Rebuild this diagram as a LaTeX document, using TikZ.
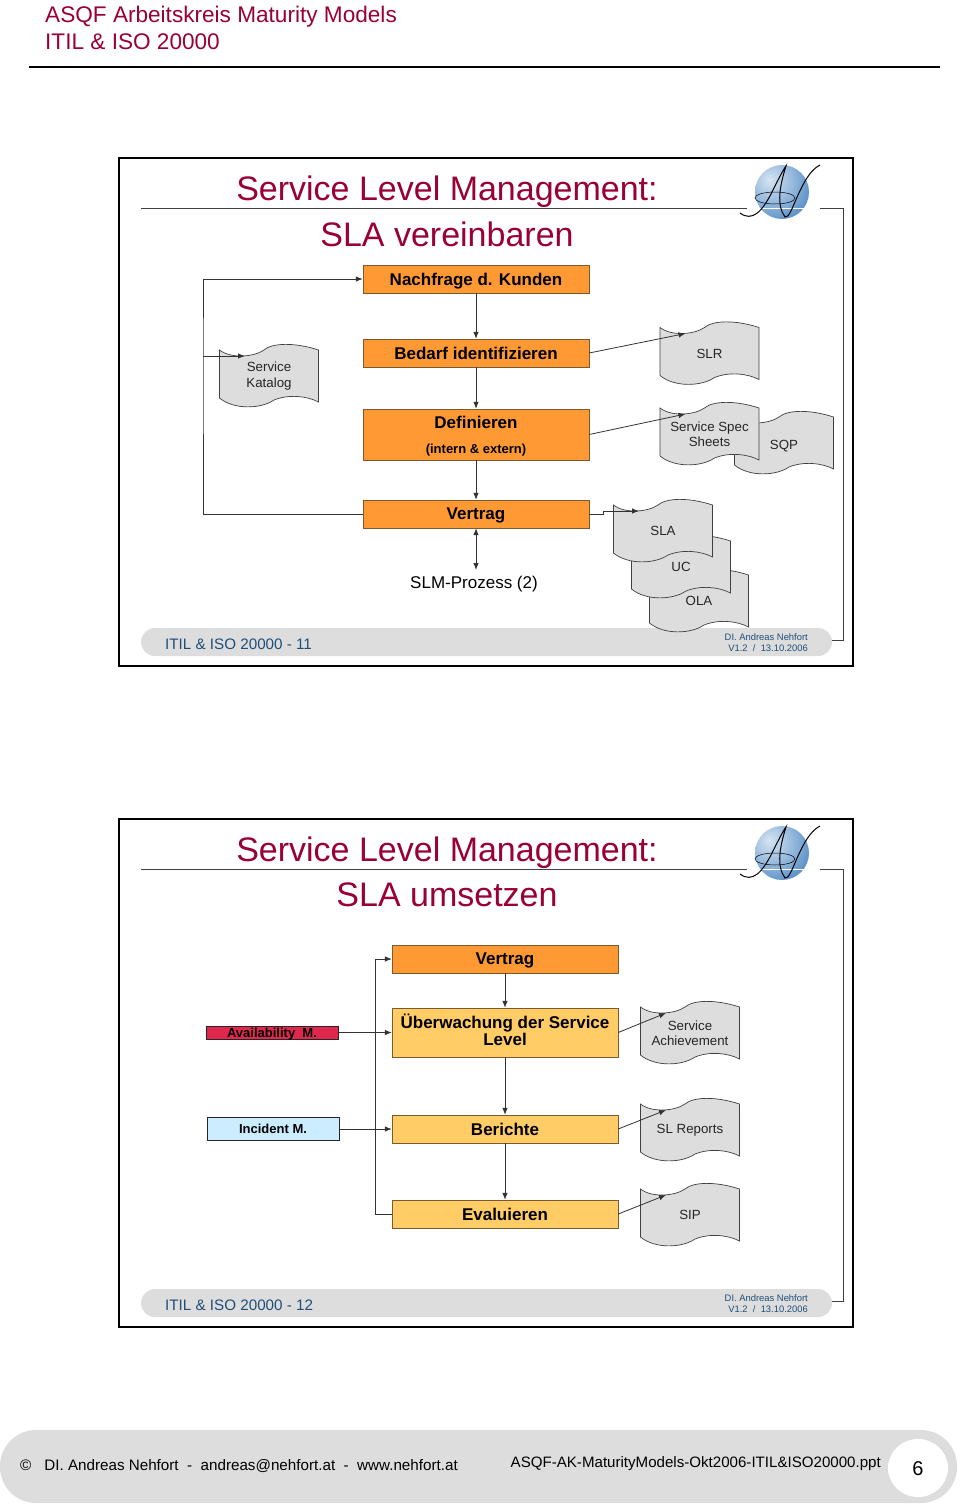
\documentclass[tikz,border=0pt]{standalone}
\usepackage{fontspec}
\setmainfont{Liberation Sans}
\usetikzlibrary{arrows.meta}
\definecolor{titlered}{HTML}{990033}
\definecolor{footblue}{HTML}{1F4E79}
\definecolor{barGrey}{HTML}{DDDDDD}
\definecolor{stepOrange}{HTML}{FF9933}
\definecolor{stepLight}{HTML}{FFCC66}
\definecolor{stepEdge}{HTML}{7A5A30}
\definecolor{availRed}{HTML}{E0284F}
\definecolor{incidentBlue}{HTML}{CCECFF}
\definecolor{ballInner}{HTML}{D6E4F2}
\definecolor{ballMid}{HTML}{94B8DC}
\definecolor{ballOuter}{HTML}{3A78B8}
\pgfdeclareradialshading{logoball}{\pgfpoint{-12bp}{12bp}}{color(0bp)=(ballInner); color(20bp)=(ballMid); color(45bp)=(ballOuter); color(100bp)=(ballOuter)}
\newcommand{\fsize}[1]{\fontsize{#1}{#1}\selectfont}
\tikzset{
  stepbox/.style={draw=stepEdge, rectangle, minimum width=226pt, minimum height=28pt, inner sep=0pt, align=center, font=\fsize{17}\bfseries},
  orangebox/.style={stepbox, fill=stepOrange},
  lightbox/.style={stepbox, fill=stepLight},
  sidebox/.style={draw=black!85, line width=1pt, rectangle, minimum width=132pt, inner sep=0pt, font=\fsize{13}\bfseries},
  docfill/.style={draw=black!75, fill=barGrey, line width=0.7pt},
  doctext/.style={align=center, inner sep=0pt, font=\fontsize{13.3}{15.5}\selectfont, text=black!85},
  flow/.style={->, draw=black!80, line width=0.8pt},
  rulegrey/.style={draw=black!75, line width=0.8pt}
}
% wavy document sheet: name, x, y, text
\newcommand{\docnode}[4]{
  \draw[docfill, shift={(#2,#3)}] (-49.5,-26) .. controls (-38,-17) and (-15,-19) .. (-5,-26)
    .. controls (3,-33) and (25,-34) .. (49.5,-26) -- (49.5,26)
    .. controls (38,20) and (20,18) .. (5,24) .. controls (-8,33) and (-35,34) .. (-49.5,22) -- cycle;
  \node (#1) [doctext] at (#2,#3) {#4};
  \coordinate (#1in) at ([shift={(-24,-20)}]#2,#3);
}
\begin{document}
\begin{tikzpicture}[x=1pt, y=-1pt, node distance=74pt, >={Latex[length=7pt,width=5.5pt]}]
  \useasboundingbox (0,0) rectangle (960,1504);

  % page head
  \node (head1) [anchor=west, inner sep=0pt, text=titlered, font=\fsize{22.6}] at (45,17) {ASQF Arbeitskreis Maturity Models};
  \node (head2) [anchor=west, inner sep=0pt, text=titlered, font=\fsize{22.6}] at (45,42) {ITIL \& ISO 20000};
  \draw[line width=1.6pt] (29,67) -- (940,67);

  % slide frames
  \foreach \slideY/\slideNo/\slideTitle in {0/11/SLA vereinbaren,661/12/SLA umsetzen} {
    \draw[line width=2pt] (119,\slideY+158) rectangle (853,\slideY+666);
    \fill[barGrey, rounded corners=14pt] (141,\slideY+628) rectangle (832,\slideY+656);
    \draw[rulegrey] (141,\slideY+208) -- (747,\slideY+208);
    \draw[rulegrey] (820,\slideY+208) -- (843,\slideY+208) -- (843,\slideY+640) -- (832,\slideY+640);
    \node (title\slideNo) [inner sep=0pt, text=titlered, font=\fsize{34}] at (447,\slideY+191.5) {Service Level Management:};
    \node (sub\slideNo) [inner sep=0pt, text=titlered, font=\fsize{34}] at (447,\slideY+234) {\slideTitle};
    \node (foot\slideNo) [anchor=west, inner sep=0pt, text=footblue, font=\fsize{15.2}] at (165,\slideY+644) {ITIL \& ISO 20000 - \slideNo};
    \node (autor\slideNo) [anchor=east, inner sep=0pt, text=footblue, font=\fsize{9.4}] at (808,\slideY+637) {DI. Andreas Nehfort};
    \node (vers\slideNo) [anchor=east, inner sep=0pt, text=footblue, font=\fsize{9.4}] at (808,\slideY+648) {V1.2~~/~~13.10.2006};
    % logo
    \shade[shading=logoball] (782,\slideY+192) circle (27);
    \draw[white, line width=0.5pt] (757,\slideY+208) -- (806,\slideY+208);
    \draw[line width=0.5pt] (775,\slideY+198) ellipse (20 and 6);
    \draw[line width=1pt] (740,\slideY+213) .. controls (752,\slideY+222) and (762,\slideY+212) .. (772,\slideY+192)
      .. controls (778,\slideY+180) and (783,\slideY+170) .. (786,\slideY+166)
      .. controls (780,\slideY+185) and (776,\slideY+205) .. (785,\slideY+217)
      .. controls (792,\slideY+220) and (800,\slideY+175) .. (820,\slideY+165);
  }

  % slide 11: steps
  \node (nachfrage) [orangebox, text depth=0pt] at (476,279) {Nachfrage d. Kunden};
  \node (bedarf) [orangebox, below of=nachfrage] {Bedarf identifizieren};
  \node (definieren) [orangebox, minimum height=51pt, below of=bedarf, yshift=-7.5pt] {\rule{0pt}{15pt}Definieren\\[8pt]{\fsize{13}(intern \& extern)}};
  \node (vertrag) [orangebox, text depth=0pt, below of=definieren, yshift=-5.5pt] {Vertrag};
  \node (prozess) [inner sep=0pt, font=\fsize{17}] at (474,584) {SLM-Prozess (2)};
  \coordinate (prozessin) at (476,570);

  % slide 11: documents
  \docnode{katalog}{269}{376}{Service\\Katalog}
  \docnode{slr}{709.5}{353.5}{SLR}
  \docnode{sqp}{784}{443}{\raisebox{-1.5pt}[9pt][0pt]{SQP}}
  \docnode{spec}{709.5}{434}{Service Spec\\Sheets}
  \docnode{ola}{699}{601}{OLA}
  \docnode{uc}{681}{567}{UC}
  \docnode{sla}{663}{531}{SLA}

  % slide 11: connectors
  \coordinate (katalogbus) at (203,356);
  \draw[flow] (nachfrage) -- (bedarf);
  \draw[flow] (bedarf) -- (definieren);
  \draw[flow] (definieren) -- (vertrag);
  \draw[flow, <->] (vertrag) -- (prozessin);
  \draw[flow] (vertrag.west) -| (katalogbus) |- (nachfrage.west);
  \draw[flow] (katalogbus) -- (katalogin);
  \draw[flow] (bedarf.east) -- (slrin);
  \draw[flow] (definieren.east) -- (specin);
  \draw[flow] (vertrag.east) -- ++(14,0) |- (slain);

  % slide 12: steps
  \node (vertragB) [orangebox, text depth=0pt] at (505,959) {Vertrag};
  \node (ueber) [lightbox, minimum height=49pt, below of=vertragB, yshift=0.5pt] {Überwachung der Service\\Level\rule[-6pt]{0pt}{0pt}};
  \node (berichte) [lightbox, below of=ueber, yshift=-22.5pt] {Berichte};
  \node (evaluieren) [lightbox, below of=berichte, yshift=-11pt] {Evaluieren};
  \node (avail) [sidebox, fill=availRed, minimum height=13pt, text height=10pt, text depth=0pt, left of=ueber, xshift=-159pt] {Availability~ M.};
  \node (incident) [sidebox, fill=incidentBlue, minimum height=23pt, left of=berichte, xshift=-158pt] {Incident M.};

  % slide 12: documents
  \docnode{achieve}{690}{1033}{Service\\Achievement}
  \docnode{reports}{690}{1130}{SL Reports}
  \docnode{sip}{690}{1215}{SIP}

  % slide 12: connectors
  \coordinate (ruecklauf) at (375,1214);
  \draw[flow] (vertragB) -- (ueber);
  \draw[flow] (ueber) -- (berichte);
  \draw[flow] (berichte) -- (evaluieren);
  \draw[flow] (evaluieren.west) -- (ruecklauf) |- (vertragB.west);
  \draw[flow] (avail) -- (ueber);
  \draw[flow] (incident) -- (berichte);
  \draw[flow] (ueber.east) -- (achievein);
  \draw[flow] (berichte.east) -- (reportsin);
  \draw[flow] (evaluieren.east) -- (sipin);

  % page foot
  \fill[barGrey, rounded corners=36pt] (0,1430) rectangle (957,1503);
  \fill[white] (918,1468) ellipse (30 and 29);
  \node (kontakt) [anchor=west, inner sep=0pt, font=\fsize{15.2}] at (20,1466.5) {©\hspace{13pt}DI. Andreas Nehfort~ -~ andreas@nehfort.at~ -~ www.nehfort.at};
  \node (datei) [anchor=east, inner sep=0pt, font=\fsize{15.1}] at (881,1463.5) {ASQF-AK-MaturityModels-Okt2006-ITIL\&ISO20000.ppt};
  \node (seite) [inner sep=0pt, font=\fsize{20}] at (918,1469) {6};
\end{tikzpicture}
\end{document}
